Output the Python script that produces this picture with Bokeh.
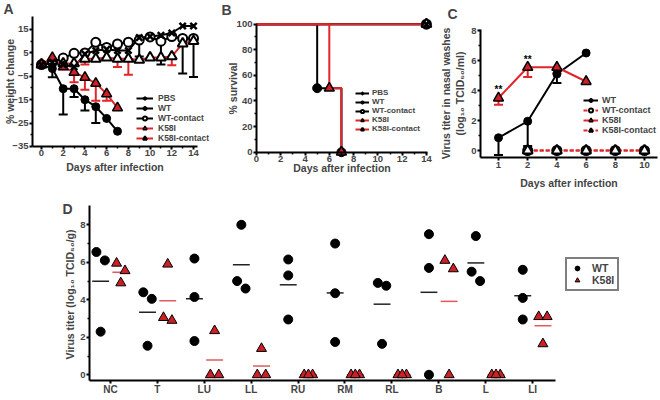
import numpy as np
from bokeh.plotting import figure
from bokeh.models import FixedTicker, Legend, LegendItem, Range1d, Label
from bokeh.layouts import column, row
from bokeh.embed import file_html
from bokeh.resources import INLINE
from bokeh.core.properties import value

# ---------------- data: panel A (weight change) ----------------
days_a = list(range(15))
pbs_a = [0, 1, 0, -1, 4.5, 6, 6.5, 6, 6, 11.5, 12, 12.5, 13.5, 16.5, 16.5]
wt_a = [0, -1.7, -10.3, -10.3, -15, -18, -23, -28.5]
wt_a_err = [0, 3.7, 11, 3.6, 4.6, 7, 0, 0]
wtc_a = [0, 1, 2.8, 4.8, 5, 9.5, 7.3, 8.8, 9.6, 10.5, 11.8, 10, 12, 11.2, 11.2]
wtc_a_err = [0, 0, 0, 0, 0, 0, 0, 0, 0, 7, 0, 10, 0, 15, 16.5]
k58i_a = [0, 3, -1, -3.3, -5.5, -8, -12.5, -18.5]
k58i_a_err = [0, 0, 1, 4.2, 5.3, 7.5, 3, 0]
k58ic_a = [0, 1.5, 0.5, 0.5, 2.5, 2.5, 3, 2.5, 2.5, 2, 3, 3, 3.5, 9, 10]
k58ic_a_err = [0, 0, 0, 0, 2.5, 0, 0, 3.5, 6.8, 0, 0, 0, 3.8, 0, 0]

# ---------------- data: panel B (survival) ----------------
days_b_pbs, surv_b_pbs = [0, 14], [100, 100]
days_b_wt, surv_b_wt = [0, 5, 7], [100, 50, 0]
days_b_wtc, surv_b_wtc = [0, 14], [100, 100]
days_b_k, surv_b_k = [0, 6, 7], [100, 50, 0]
days_b_kc, surv_b_kc = [0, 14], [100, 100]

# ---------------- data: panel C (nasal wash titers) ----------------
days_c = ["1", "2", "4", "6", "8", "10"]
wt_c = [0.85, 1.95, 5.1, 6.5]
wt_c_err = [1.15, 1.85, 0.6, 0]
k58i_c = [3.5, 5.55, 5.55, 4.6]
k58i_c_err = [0.45, 0.65, 0.4, 0]
wtc_c = [0, 0, 0, 0, 0]          # days 2..10
wtc_c_err_up = [0.3, 0, 0, 0, 0]
k58ic_c = [0, 0, 0, 0, 0]        # days 2..10
signif_c = ["**", "**"]          # days 1 and 2

# ---------------- data: panel D (tissue titers) ----------------
tissues = ["NC", "T", "LU", "LL", "RU", "RM", "RL", "B", "L", "LI"]
wt_d = [[6.55, 6.1, 2.3], [4.4, 4.05, 1.55], [6.2, 4.15, 1.8], [8.0, 5.0, 4.6],
        [6.15, 5.3, 2.95], [7.0, 4.35, 1.75], [4.9, 4.75, 1.65], [7.5, 5.7, 0.0],
        [7.4, 5.5, 5.0], [5.6, 4.1, 2.95]]
k58i_d = [[5.95, 5.55, 4.9], [5.9, 3.05, 2.9], [2.35, 0, 0], [1.4, 0, 0], [0, 0, 0],
          [0, 0, 0], [0, 0, 0], [6.1, 5.65, 0], [0, 0, 0], [3.1, 3.1, 1.65]]

FONT = "Liberation Sans"
RED = "#e2252b"
TRI = "#cc1f26"
BLK = "#000000"


def make_fig(letter, w, h, xr, yr, xloc, yloc, xb, yb, lx, ly):
    """Frame fills the whole figure; axes are pinned at fixed data locations."""
    p = figure(width=w, height=h, x_range=Range1d(*xr), y_range=Range1d(*yr),
               output_backend="svg", toolbar_location=None)
    p.min_border = 0
    p.min_border_left = p.min_border_right = p.min_border_top = p.min_border_bottom = 0
    p.title.visible = False
    p.xgrid.visible = False
    p.ygrid.visible = False
    p.outline_line_color = None
    p.border_fill_color = "white"
    p.xaxis.fixed_location = xloc
    p.yaxis.fixed_location = yloc
    p.xaxis.bounds = xb
    p.yaxis.bounds = yb
    for ax in (p.xaxis[0], p.yaxis[0]):
        ax.axis_line_width = 2
        ax.axis_line_color = BLK
        ax.major_tick_line_width = 2
        ax.major_tick_in = 0
        ax.major_tick_out = 3
        ax.minor_tick_line_width = 1.5
        ax.minor_tick_in = 0
        ax.minor_tick_out = 2
        ax.major_label_text_font = FONT
        ax.major_label_text_font_style = "bold"
        ax.major_label_text_font_size = "9.5px"
        ax.major_label_standoff = 1
        ax.axis_label_text_font = FONT
        ax.axis_label_text_font_style = "bold"
        ax.axis_label_text_font_size = "10.5px"
        ax.axis_label_standoff = 1
    p.add_layout(Label(x=lx, y=h - ly, x_units="screen", y_units="screen", text=letter,
                       text_font=FONT, text_font_style="bold", text_font_size="14px",
                       text_baseline="top", text_align="left"))
    return p


def errbars(p, xs, ys, errs, color, direction=-1):
    x = [xs[i] for i in range(len(errs)) if errs[i] > 0]
    y0 = [ys[i] for i in range(len(errs)) if errs[i] > 0]
    y1 = [ys[i] + direction * errs[i] for i in range(len(errs)) if errs[i] > 0]
    p.segment(x0=x, y0=y0, x1=x, y1=y1, line_color=color, line_width=2)
    p.scatter(x, y1, marker="dash", size=9, line_color=color, line_width=2)


def mk_legend(items, loc, size, gw, gh, standoff=4, border=None, padding=0):
    lg = Legend(items=items, location=loc, border_line_color=border,
                background_fill_alpha=0 if border is None else 1,
                label_text_font=FONT, label_text_font_style="bold",
                label_text_font_size=size, glyph_width=gw, glyph_height=gh,
                label_height=gh, spacing=0, padding=padding, margin=0,
                label_standoff=standoff)
    if border is not None:
        lg.border_line_width = 2
    return lg


# ======================= Panel A =======================
pA = make_fig("A", 213, 192, (-3.775, 15.84), (-54.66, 27.39), -35, -0.83,
              (-0.83, 14.4), (-35, 20.6), 3, 0)
pA.xaxis.ticker = FixedTicker(ticks=list(range(0, 15, 2)), minor_ticks=list(range(1, 15, 2)))
pA.yaxis.ticker = FixedTicker(ticks=[15, 5, -5, -15, -25, -35], minor_ticks=[10, 0, -10, -20, -30])
pA.xaxis.axis_label = "Days after infection"
pA.yaxis.axis_label = "% weight change"
pA.yaxis.axis_label_standoff = -7

errbars(pA, days_a, wtc_a, wtc_a_err, BLK)
errbars(pA, days_a, wt_a, wt_a_err, BLK)
errbars(pA, days_a, k58i_a, k58i_a_err, RED)
errbars(pA, days_a, k58ic_a, k58ic_a_err, RED)

la1 = pA.line(days_a, pbs_a, line_color=BLK, line_width=2)
la2 = pA.line(days_a[:len(wt_a)], wt_a, line_color=BLK, line_width=2)
la3 = pA.line(days_a, wtc_a, line_color=BLK, line_width=2)
la4 = pA.line(days_a[:len(k58i_a)], k58i_a, line_color=RED, line_width=2)
la5 = pA.line(days_a, k58ic_a, line_color=RED, line_width=2)
ma3 = pA.scatter(days_a, wtc_a, marker="circle", size=9, fill_color="white", line_color=BLK, line_width=2)
ma5 = pA.scatter(days_a, k58ic_a, marker="triangle", size=10, fill_color="white", line_color=BLK, line_width=2)
ma2 = pA.scatter(days_a[:len(wt_a)], wt_a, marker="circle", size=8, fill_color=BLK, line_color=BLK)
ma4 = pA.scatter(days_a[:len(k58i_a)], k58i_a, marker="triangle", size=10, fill_color=TRI, line_color=BLK, line_width=1.5)
ma1 = pA.scatter(days_a, pbs_a, marker="x", size=9, line_color=BLK, line_width=2.5)

pA.add_layout(mk_legend([
    LegendItem(label="PBS", renderers=[la1, ma1]),
    LegendItem(label="WT", renderers=[la2, ma2]),
    LegendItem(label="WT-contact", renderers=[la3, ma3]),
    LegendItem(label="K58I", renderers=[la4, ma4]),
    LegendItem(label="K58I-contact", renderers=[la5, ma5]),
], (136, 49), "8.5px", 17, 10, standoff=5))

# ======================= Panel B =======================
pB = make_fig("B", 227, 192, (-3.54, 15.16), (-31.5, 118.5), 0, 0,
              (0, 14.1), (0, 100), 8, 1)
pB.xaxis.ticker = FixedTicker(ticks=list(range(0, 15, 2)), minor_ticks=list(range(1, 15, 2)))
pB.yaxis.ticker = FixedTicker(ticks=[0, 20, 40, 60, 80, 100], minor_ticks=[10, 30, 50, 70, 90])
pB.xaxis.axis_label = "Days after infection"
pB.xaxis.axis_label_standoff = -4
pB.yaxis.axis_label = "% survival"
pB.yaxis.axis_label_standoff = -5

lb1 = pB.step(days_b_pbs, surv_b_pbs, mode="after", line_color=BLK, line_width=2)
lb3 = pB.step(days_b_wtc, surv_b_wtc, mode="after", line_color=BLK, line_width=2)
lb2 = pB.step(days_b_wt, surv_b_wt, mode="after", line_color=BLK, line_width=2)
lb4 = pB.step(days_b_k, surv_b_k, mode="after", line_color=RED, line_width=2)
lb5 = pB.step(days_b_kc, surv_b_kc, mode="after", line_color=RED, line_width=2)
mb2 = pB.scatter(days_b_wt[1:], surv_b_wt[1:], marker="circle", size=9, fill_color=BLK, line_color=BLK)
mb4 = pB.scatter(days_b_k[1:], surv_b_k[1:], marker="triangle", size=10, fill_color=TRI, line_color=BLK, line_width=1.5)
mb3 = pB.scatter(days_b_wtc[1:], surv_b_wtc[1:], marker="circle", size=9, fill_color="white", line_color=BLK, line_width=2)
mb5 = pB.scatter(days_b_kc[1:], surv_b_kc[1:], marker="triangle", size=10, fill_color="white", line_color=BLK, line_width=2)
mb1 = pB.scatter(days_b_pbs[1:], surv_b_pbs[1:], marker="x", size=10, line_color=BLK, line_width=2.5)

pB.add_layout(mk_legend([
    LegendItem(label="PBS", renderers=[lb1, mb1]),
    LegendItem(label="WT", renderers=[lb2, mb2]),
    LegendItem(label="WT-contact", renderers=[lb3, mb3]),
    LegendItem(label="K58I", renderers=[lb4, mb4]),
    LegendItem(label="K58I-contact", renderers=[lb5, mb5]),
], (142, 59), "8px", 14, 8, standoff=3))

# ======================= Panel C =======================
pC = make_fig("C", 220, 192, (-1.986, 5.548), (-2.8, 10.0), -0.467, -0.616,
              (-0.616, 5.45), (-0.467, 8.07), 7, 5)
idx_c = list(range(len(days_c)))
pC.xaxis.ticker = FixedTicker(ticks=idx_c)
pC.xaxis.major_label_overrides = {i: d for i, d in zip(idx_c, days_c)}
pC.yaxis.ticker = FixedTicker(ticks=[0, 2, 4, 6, 8], minor_ticks=[1, 3, 5, 7])
pC.xaxis.axis_label = "Days after infection"
pC.xaxis.axis_label_standoff = 6
pC.yaxis.axis_label = "Virus titer in nasal washes\n(log\u2081\u2080 TCID\u2085\u2080/ml)"
pC.yaxis.axis_label_standoff = 2

x_wt_c = idx_c[:len(wt_c)]
x_cont = idx_c[1:]
errbars(pC, x_wt_c, wt_c, wt_c_err, BLK)
errbars(pC, x_wt_c, k58i_c, k58i_c_err, RED)
errbars(pC, x_cont, wtc_c, wtc_c_err_up, BLK, direction=1)

lc1 = pC.line(x_wt_c, wt_c, line_color=BLK, line_width=2)
lc2 = pC.line(x_cont, wtc_c, line_color=RED, line_width=2, line_dash="4 2")
lc3 = pC.line(x_wt_c, k58i_c, line_color=RED, line_width=2)
lc4 = pC.line(x_cont, k58ic_c, line_color=RED, line_width=2, line_dash="4 2")
mc2 = pC.scatter(x_cont, wtc_c, marker="circle", size=9, fill_color="white", line_color=BLK, line_width=2)
mc4 = pC.scatter(x_cont, k58ic_c, marker="triangle", size=10, fill_color="white", line_color=BLK, line_width=2)
mc1 = pC.scatter(x_wt_c, wt_c, marker="circle", size=8, fill_color=BLK, line_color=BLK)
mc3 = pC.scatter(x_wt_c, k58i_c, marker="triangle", size=10, fill_color=TRI, line_color=BLK, line_width=1.5)
pC.text(x=idx_c[:len(signif_c)], y=[v + 0.55 for v in k58i_c[:len(signif_c)]], text=signif_c,
        text_font=value(FONT), text_font_size="10px", text_font_style="bold",
        text_align="center", text_baseline="middle", text_color=BLK)

pC.add_layout(mk_legend([
    LegendItem(label="WT", renderers=[lc1, mc1]),
    LegendItem(label="WT-contact", renderers=[lc2, mc2]),
    LegendItem(label="K58I", renderers=[lc3, mc3]),
    LegendItem(label="K58I-contact", renderers=[lc4, mc4]),
], (143, 57), "9px", 15, 10, standoff=4))

# ======================= Panel D =======================
pD = make_fig("D", 660, 208, (-2.345, 11.727), (-1.371, 9.723), -0.304, -0.448,
              (-0.448, 9.49), (-0.304, 9.03), 62, 8)
idx_d = list(range(len(tissues)))
pD.xaxis.ticker = FixedTicker(ticks=idx_d)
pD.xaxis.major_label_overrides = {i: t for i, t in zip(idx_d, tissues)}
pD.xaxis.major_label_text_font_size = "10px"
pD.yaxis.ticker = FixedTicker(ticks=[0, 2, 4, 6, 8], minor_ticks=[1, 3, 5, 7])
pD.yaxis.axis_label = "Virus titer (log\u2081\u2080  TCID\u2085\u2080/g)"


def spread(vals, center, gap2=0.18, gap3=0.09, tol=0.75):
    order = sorted(range(len(vals)), key=lambda i: -vals[i])
    clusters = []
    for i in order:
        if clusters and abs(vals[clusters[-1][-1]] - vals[i]) < tol:
            clusters[-1].append(i)
        else:
            clusters.append([i])
    offs = [center] * len(vals)
    for cl in clusters:
        k = len(cl)
        if k == 2:
            pat = [-gap2 / 2, gap2 / 2]
        elif k == 3:
            pat = [-gap3, gap3, 0]
        else:
            pat = [0]
        for j, i in enumerate(cl):
            offs[i] = center + pat[j]
    return offs


xw, yw, xk, yk = [], [], [], []
for i, (w, k) in enumerate(zip(wt_d, k58i_d)):
    xw += [i + o for o in spread(w, -0.21)]
    yw += w
    xk += [i + o for o in spread(k, 0.22)]
    yk += k
mean_w = [float(np.mean(w)) for w in wt_d]
mean_k = [float(np.mean(k)) for k in k58i_d]
half = 0.18
pD.segment(x0=[i - 0.21 - half for i in idx_d], x1=[i - 0.21 + half for i in idx_d],
           y0=mean_w, y1=mean_w, line_color="#222222", line_width=1.5)
pD.segment(x0=[i + 0.22 - half for i in idx_d], x1=[i + 0.22 + half for i in idx_d],
           y0=mean_k, y1=mean_k, line_color="#e05a5e", line_width=1.5)
md1 = pD.scatter(xw, yw, marker="circle", size=9, fill_color=BLK, line_color=BLK)
md2 = pD.scatter(xk, yk, marker="triangle", size=10, fill_color=TRI, line_color=BLK, line_width=1)

pD.add_layout(mk_legend([
    LegendItem(label="WT", renderers=[md1]),
    LegendItem(label="K58I", renderers=[md2]),
], (565, 109), "10.5px", 14, 12, standoff=8, border=BLK, padding=3))

layout = column(row(pA, pB, pC, spacing=0), pD, spacing=0)
open("out.html", "w").write(file_html(layout, INLINE))
